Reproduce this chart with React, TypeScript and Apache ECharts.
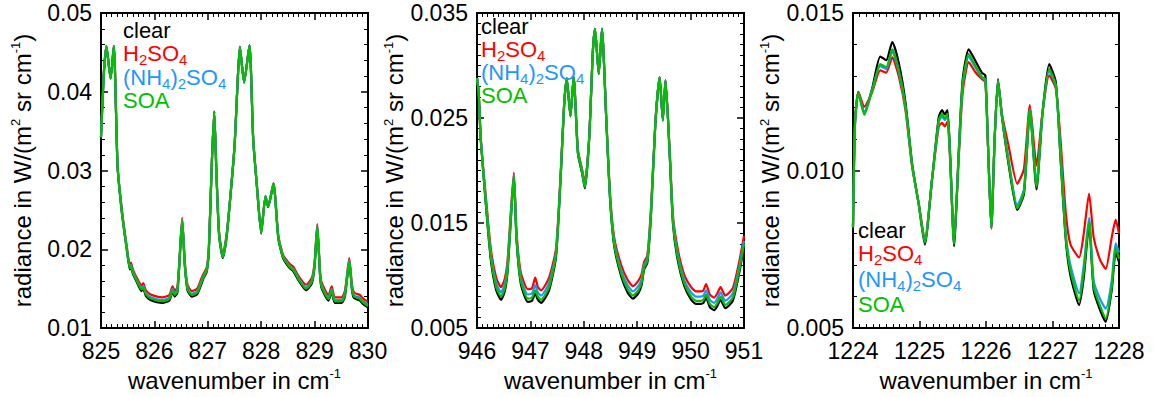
import React, { useEffect, useRef } from 'react';
import * as echarts from 'echarts';

// ---------- data ----------
const seriesNames = ['clear', 'H2SO4', '(NH4)2SO4', 'SOA'];
const seriesColors = ['#000000', '#ff0000', '#1e96ff', '#00c000'];
const legendTexts = [
  '{n|clear}',
  '{n|H}{s|2}{n|SO}{s|4}',
  '{n|(NH}{s|4}{n|)}{s|2}{n|SO}{s|4}',
  '{n|SOA}',
];
const xAxisTitle = '{a|wavenumber in cm}{s|-1}';
const yAxisTitle = '{a|radiance in W/(m}{s|2}{a| sr cm}{s|-1}{a|)}';

// Panel 1: 825-830 cm-1
const p1X = [825.00,825.05,825.10,825.18,825.24,825.31,825.39,825.48,825.54,825.56,825.60,825.67,825.76,825.79,825.84,825.92,826.05,826.15,826.28,826.34,826.38,826.43,826.47,826.52,826.57,826.62,826.70,826.80,826.88,826.92,826.98,827.02,827.07,827.12,827.16,827.21,827.28,827.35,827.42,827.50,827.55,827.60,827.68,827.78,827.85,827.92,828.00,828.08,828.13,828.23,828.32,828.41,828.54,828.60,828.70,828.84,828.95,829.00,829.05,829.10,829.13,829.26,829.32,829.38,829.51,829.57,829.65,829.70,829.74,829.85,829.90,830.00];
const p1Clear = [.03415,.0420,.0458,.0417,.0458,.03055,.0247,.0201,.01745,.01775,.01685,.01585,.0147,.0150,.0141,.0136,.0133,.0132,.0135,.0146,.0140,.0145,.01835,.0236,.01785,.0148,.0140,.0143,.0156,.01635,.01715,.0199,.02995,.0375,.02995,.0219,.0189,.0214,.02645,.03295,.0400,.0457,.0412,.0459,.03395,.02795,.0220,.02665,.02535,.02825,.0214,.0189,.01755,.01725,.01605,.0148,.0157,.01785,.0228,.01685,.0151,.0135,.0146,.0132,.0132,.0141,.01835,.0148,.0138,.0135,.0131,.0126];
const p1H2SO4 = [.0343,.0420,.0458,.0417,.0458,.0307,.0251,.0205,.0180,.0183,.0174,.0164,.0154,.0157,.0148,.0143,.0140,.0139,.0142,.0153,.0147,.0152,.0189,.0240,.0184,.0155,.0147,.0150,.0163,.0169,.0177,.0203,.0301,.0375,.0301,.0223,.0193,.0218,.0266,.0331,.0400,.0457,.0412,.0459,.0341,.0281,.0224,.0268,.0255,.0284,.0218,.0193,.0181,.0178,.0166,.0155,.0164,.0184,.0232,.0174,.0158,.0142,.0153,.0139,.0139,.0148,.0189,.0155,.0145,.0142,.0138,.0133];
const p1NH4 = [.03424,.0420,.0458,.0417,.0458,.03064,.0249,.0203,.01772,.01802,.01712,.01612,.01505,.01535,.01445,.01395,.01365,.01355,.01385,.01495,.01435,.01485,.01862,.0238,.01812,.01515,.01435,.01465,.01595,.01662,.01742,.0201,.03004,.0375,.03004,.0221,.0191,.0216,.02654,.03304,.0400,.0457,.0412,.0459,.03404,.02804,.0222,.02674,.02544,.02834,.0216,.0191,.01782,.01752,.01632,.01515,.01605,.01812,.0230,.01712,.01545,.01385,.01495,.01355,.01355,.01445,.01862,.01515,.01415,.01385,.01345,.01295];
const p1SOA = [.0342,.0420,.0458,.0417,.0458,.0306,.0248,.0202,.0176,.0179,.0170,.0160,.0149,.0152,.0143,.0138,.0135,.0134,.0137,.0148,.0142,.0147,.0185,.0237,.0180,.0150,.0142,.0145,.0158,.0165,.0173,.0200,.0300,.0375,.0300,.0220,.0190,.0215,.0265,.0330,.0400,.0457,.0412,.0459,.0340,.0280,.0221,.0267,.0254,.0283,.0215,.0190,.0177,.0174,.0162,.0150,.0159,.0180,.0229,.0170,.0153,.0137,.0148,.0134,.0134,.0143,.0185,.0150,.0140,.0137,.0133,.0128];

// Panel 2: 946-951 cm-1
const p2X = [946.00,946.03,946.07,946.17,946.26,946.36,946.45,946.52,946.57,946.63,946.69,946.74,946.82,946.95,947.03,947.09,947.14,947.20,947.35,947.48,947.57,947.63,947.68,947.75,947.81,947.89,947.97,948.02,948.10,948.17,948.21,948.28,948.34,948.42,948.49,948.57,948.70,948.82,948.92,949.02,949.08,949.13,949.19,949.26,949.34,949.42,949.48,949.53,949.61,949.67,949.76,949.88,950.01,950.10,950.19,950.24,950.29,950.36,950.44,950.50,950.56,950.65,950.79,950.91,951.00];
const p2Clear = [.0288,.0275,.02295,.0165,.01145,.0086,.0077,.0085,.01025,.0150,.0194,.0134,.00925,.0075,.0076,.0083,.0077,.0074,.0086,.0118,.0197,.02605,.0288,.02515,.0289,.0216,.0197,.0183,.02295,.0314,.0335,.0292,.0335,.02495,.0174,.0128,.00995,.0084,.0078,.0083,.00905,.0106,.0112,.0159,.02445,.0289,.02475,.0286,.0213,.0149,.01145,.00905,.0077,.0073,.0073,.0074,.0079,.0070,.0067,.0071,.0077,.0069,.0076,.01025,.0128];
const p2H2SO4 = [.0288,.0275,.0231,.0173,.0125,.0098,.0089,.0097,.0113,.0158,.0198,.0142,.0103,.0087,.0088,.0098,.0089,.0086,.0098,.0126,.0201,.0262,.0288,.0253,.0289,.0220,.0201,.0188,.0231,.0314,.0335,.0292,.0335,.0251,.0179,.0136,.0110,.0096,.0090,.0095,.0101,.0113,.0119,.0166,.0246,.0289,.0249,.0286,.0217,.0157,.0125,.0101,.0089,.0085,.0085,.0086,.0092,.0082,.0079,.0083,.0089,.0081,.0088,.0113,.0138];
const p2NH4 = [.0288,.0275,.02305,.0169,.0120,.0093,.0084,.0092,.0108,.0154,.0196,.0138,.0098,.0082,.0083,.0091,.0084,.0081,.0093,.0122,.0199,.02615,.0288,.02525,.0289,.0218,.0199,.0185,.02305,.0314,.0335,.0292,.0335,.02505,.0176,.0132,.0105,.0091,.0085,.0090,.0096,.0110,.0116,.0163,.02455,.0289,.02485,.0286,.0215,.0153,.0120,.0096,.0084,.0080,.0080,.0081,.0086,.0077,.0074,.0078,.0084,.0076,.0083,.0108,.0133];
const p2SOA = [.0288,.0275,.0230,.0167,.0117,.0089,.0080,.0088,.0105,.0152,.0195,.0136,.0095,.0078,.0079,.0086,.0080,.0077,.0089,.0120,.0198,.0261,.0288,.0252,.0289,.0217,.0198,.0184,.0230,.0314,.0335,.0292,.0335,.0250,.0175,.0130,.0102,.0087,.0081,.0086,.0093,.0108,.0114,.0161,.0245,.0289,.0248,.0286,.0214,.0151,.0117,.0093,.0080,.0076,.0076,.0077,.0082,.0073,.0070,.0074,.0080,.0072,.0079,.0105,.0130];

// Panel 3: 1224-1228 cm-1
const p3X = [1224.00,1224.03,1224.08,1224.17,1224.29,1224.41,1224.50,1224.59,1224.69,1224.79,1224.89,1224.99,1225.08,1225.19,1225.29,1225.34,1225.38,1225.42,1225.46,1225.52,1225.59,1225.65,1225.74,1225.84,1225.94,1225.99,1226.03,1226.08,1226.13,1226.18,1226.24,1226.34,1226.47,1226.57,1226.66,1226.76,1226.85,1226.95,1227.05,1227.12,1227.20,1227.27,1227.40,1227.47,1227.55,1227.62,1227.72,1227.80,1227.89,1227.95,1228.00];
const p3Clear = [.0082,.0115,.0125,.01183,.01262,.01362,.0135,.01408,.0134,.01215,.0102,.0089,.00765,.00974,.0117,.01192,.01178,.01192,.01055,.0076,.0106,.0129,.01385,.01348,.0131,.01302,.0108,.00818,.0110,.0129,.0117,.0102,.00875,.00925,.0119,.0094,.01185,.01338,.0128,.0104,.0078,.00667,.00573,.0066,.0083,.0062,.00555,.0052,.0062,.0074,.0071];
const p3H2SO4 = [.0082,.0115,.0125,.01203,.0125,.01318,.01311,.01359,.01298,.0119,.0101,.00895,.0078,.00975,.0114,.01151,.0114,.01155,.01035,.00775,.0104,.0125,.01344,.01312,.0129,.0128,.0108,.00815,.0110,.01284,.0118,.01078,.00958,.01005,.01208,.01016,.01185,.01302,.0126,.0110,.00865,.00766,.00724,.0080,.00927,.00787,.00714,.00688,.00787,.00844,.0080];
const p3NH4 = [.0082,.0115,.01245,.01185,.01257,.01332,.01322,.01378,.01312,.0120,.01015,.00892,.00775,.00974,.01155,.01172,.0116,.01173,.01045,.0077,.0105,.0127,.01362,.01327,.01295,.01287,.0108,.00818,.0110,.01284,.01175,.01035,.0089,.0094,.01195,.00958,.01182,.01316,.01268,.0106,.0080,.0070,.0061,.0070,.0085,.0065,.0059,.00562,.0065,.0077,.0074];
const p3SOA = [.0082,.0115,.01247,.01177,.01255,.01338,.01328,.01385,.01318,.01203,.01016,.00891,.00771,.00974,.01161,.0118,.01165,.0118,.01047,.00766,.0105,.01276,.0137,.01333,.01297,.0129,.0108,.00818,.0110,.01284,.01172,.01026,.0088,.00932,.01193,.00948,.01182,.01323,.01271,.01047,.00787,.00682,.00588,.0068,.00838,.0063,.00568,.00531,.0063,.00755,.0072];

// ---------- layout ----------
const FONT = "'Liberation Sans', Arial, Helvetica, sans-serif";
const panels = [
  { x: p1X, ys: [p1Clear, p1H2SO4, p1NH4, p1SOA], xMin: 825, xMax: 830, yMin: 0.01, yMax: 0.05, yInterval: 0.01, yMinor: 5, digits: 2,
    left: 101, width: 267, legendX: 123, legendY: [30, 53, 77, 100] },
  { x: p2X, ys: [p2Clear, p2H2SO4, p2NH4, p2SOA], xMin: 946, xMax: 951, yMin: 0.005, yMax: 0.035, yInterval: 0.01, yMinor: 10, digits: 3,
    left: 477, width: 267, legendX: 481, legendY: [26, 49, 72, 95] },
  { x: p3X, ys: [p3Clear, p3H2SO4, p3NH4, p3SOA], xMin: 1224, xMax: 1228, yMin: 0.005, yMax: 0.015, yInterval: 0.005, yMinor: 5, digits: 3,
    left: 853, width: 266, legendX: 858, legendY: [230, 253, 279, 304] },
];
const TOP = 13;
const HEIGHT = 320;

const axisLineStyle = { show: true, onZero: false, lineStyle: { color: '#000', width: 2 } };
const majorTick = { show: true, inside: true, length: 7, lineStyle: { color: '#000', width: 1.5 } };
const nameRich = {
  a: { fontSize: 24, fontFamily: FONT, color: '#000', lineHeight: 26 },
  s: { fontSize: 13, fontFamily: FONT, color: '#000', lineHeight: 12, verticalAlign: 'top' },
};

function buildOption() {
  const grid: any[] = [];
  const xAxis: any[] = [];
  const yAxis: any[] = [];
  const series: any[] = [];
  const graphic: any[] = [];

  panels.forEach((p, i) => {
    grid.push({ left: p.left, top: TOP, width: p.width, height: HEIGHT, containLabel: false });
    const xCommon = {
      type: 'value', gridIndex: i, min: p.xMin, max: p.xMax, interval: 1,
      axisLine: axisLineStyle, axisTick: majorTick,
      minorTick: { show: true, splitNumber: 10, length: 4, lineStyle: { color: '#000', width: 1 } },
      splitLine: { show: false }, minorSplitLine: { show: false },
    };
    xAxis.push({
      ...xCommon, position: 'bottom',
      axisLabel: { show: true, color: '#000', fontSize: 23, fontFamily: FONT, margin: 11,
        formatter: (v: number) => String(Math.round(v)) },
      name: xAxisTitle, nameLocation: 'middle', nameGap: 36,
      nameTextStyle: { color: '#000', fontSize: 24, fontFamily: FONT, rich: nameRich },
    });
    xAxis.push({ ...xCommon, position: 'top', axisLabel: { show: false } });

    const yCommon = {
      type: 'value', gridIndex: i, min: p.yMin, max: p.yMax, interval: p.yInterval,
      axisLine: axisLineStyle, axisTick: majorTick,
      minorTick: { show: true, splitNumber: p.yMinor, length: 4, lineStyle: { color: '#000', width: 1 } },
      splitLine: { show: false }, minorSplitLine: { show: false },
    };
    yAxis.push({
      ...yCommon, position: 'left',
      axisLabel: { show: true, color: '#000', fontSize: 23, fontFamily: FONT, margin: 9,
        formatter: (v: number) => v.toFixed(p.digits) },
      name: yAxisTitle, nameLocation: 'middle', nameGap: 66, nameRotate: 90,
      nameTextStyle: { color: '#000', fontSize: 24, fontFamily: FONT, rich: nameRich },
    });
    yAxis.push({ ...yCommon, position: 'right', axisLabel: { show: false } });

    p.ys.forEach((ys, k) => {
      series.push({
        name: seriesNames[k] + ' ' + i,
        type: 'line',
        xAxisIndex: 2 * i,
        yAxisIndex: 2 * i,
        data: p.x.map((xv, j) => [xv, ys[j]]),
        showSymbol: false,
        symbol: 'none',
        smooth: 0.2,
        clip: true,
        silent: true,
        lineStyle: { width: 2.2, color: seriesColors[k] },
        z: 2 + k,
      });
    });

    legendTexts.forEach((t, k) => {
      graphic.push({
        type: 'text',
        x: p.legendX,
        y: p.legendY[k],
        z: 100,
        style: {
          text: t,
          fill: seriesColors[k],
          font: `22px ${FONT}`,
          verticalAlign: 'middle',
          align: 'left',
          rich: {
            n: { fill: seriesColors[k], fontSize: 22, fontFamily: FONT, lineHeight: 20 },
            s: { fill: seriesColors[k], fontSize: 15, fontFamily: FONT, padding: [12, 0, 0, 0] },
          },
        },
      });
    });
  });

  return {
    animation: false,
    backgroundColor: '#ffffff',
    grid,
    xAxis,
    yAxis,
    series,
    graphic,
  };
}

export default function App() {
  const ref = useRef<HTMLDivElement>(null);
  useEffect(() => {
    if (!ref.current) return;
    const chart = echarts.init(ref.current, undefined, { renderer: 'svg' });
    chart.setOption(buildOption() as any);
    return () => chart.dispose();
  }, []);
  return (
    <div
      ref={ref}
      style={{ position: 'fixed', left: 0, top: 0, width: 1154, height: 397, background: '#fff' }}
    />
  );
}
